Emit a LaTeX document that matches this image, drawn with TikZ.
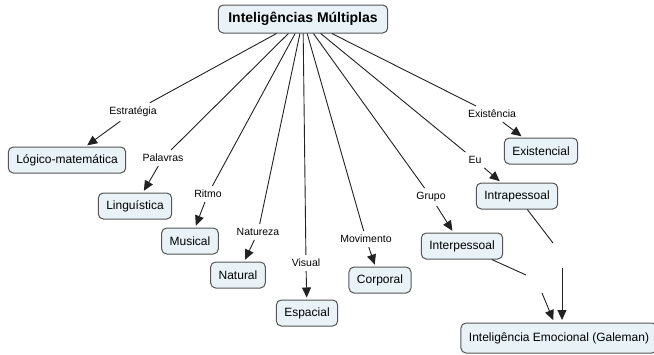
\documentclass[tikz,border=0pt]{standalone}
\usepackage{fontspec}
\setmainfont{Liberation Sans}
\usetikzlibrary{arrows.meta}
\definecolor{boxfill}{HTML}{E8F2F7}
\definecolor{boxline}{HTML}{555555}
\definecolor{lineclr}{HTML}{222222}
\begin{document}
\begin{tikzpicture}[x=1pt,y=-1pt,
  concept/.style={draw=boxline, fill=boxfill, rounded corners=5pt, line width=1pt,
    inner xsep=8pt, minimum height=26pt, font=\fontsize{12}{14}\selectfont},
  link/.style={font=\fontsize{10.5}{12}\selectfont, inner sep=4pt},
  conn/.style={draw=lineclr, line width=0.9pt},
  arr/.style={conn, -{Triangle[length=10pt,width=9pt]}, shorten >=2pt}]
\useasboundingbox (0,0) rectangle (654,354);
\fill[white] (0,0) rectangle (654,354);

\node[concept, font=\bfseries\fontsize{14}{16}\selectfont, minimum height=28pt, inner xsep=10pt] (top) at (303,19) {Inteligências Múltiplas};
\node[concept] (logico) at (67,160) {Lógico-matemática};
\node[concept] (ling) at (135,206) {Linguística};
\node[concept] (mus) at (190,241) {Musical};
\node[concept] (nat) at (238,275) {Natural};
\node[concept] (esp) at (307,313) {Espacial};
\node[concept] (corp) at (380,280) {Corporal};
\node[concept] (inter) at (462,246) {Interpessoal};
\node[concept] (intra) at (517,196) {Intrapessoal};
\node[concept] (exist) at (541,151) {Existencial};
\node[concept, minimum height=30pt] (emo) at (559,338) {Inteligência Emocional (Galeman)};

\node[link] (l1) at (133,112) {Estratégia};
\node[link] (l2) at (163,158) {Palavras};
\node[link] (l3) at (208,194) {Ritmo};
\node[link] (l4) at (258,232) {Natureza};
\node[link] (l5) at (306,263) {Visual};
\node[link] (l6) at (366,239) {Movimento};
\node[link] (l7) at (431,197) {Grupo};
\node[link] (l8) at (475,160) {Eu};
\node[link] (l9) at (492,114) {Existência};

\foreach \l/\t in {l1/logico, l2/ling, l3/mus, l4/nat, l5/esp, l6/corp, l7/inter, l8/intra, l9/exist}{
  \draw[conn] (top) -- (\l);
  \draw[arr] (\l) -- (\t);
}

\coordinate (g1a) at (553,243);
\coordinate (g1b) at (562,268);
\coordinate (g1e) at (562,322);
\coordinate (g2a) at (526,275);
\coordinate (g2b) at (542,293);
\coordinate (g2e) at (554,322);
\draw[conn] (intra) -- (g1a);
\draw[arr] (g1b) -- (g1e);
\draw[conn] (inter) -- (g2a);
\draw[arr] (g2b) -- (g2e);
\end{tikzpicture}
\end{document}
